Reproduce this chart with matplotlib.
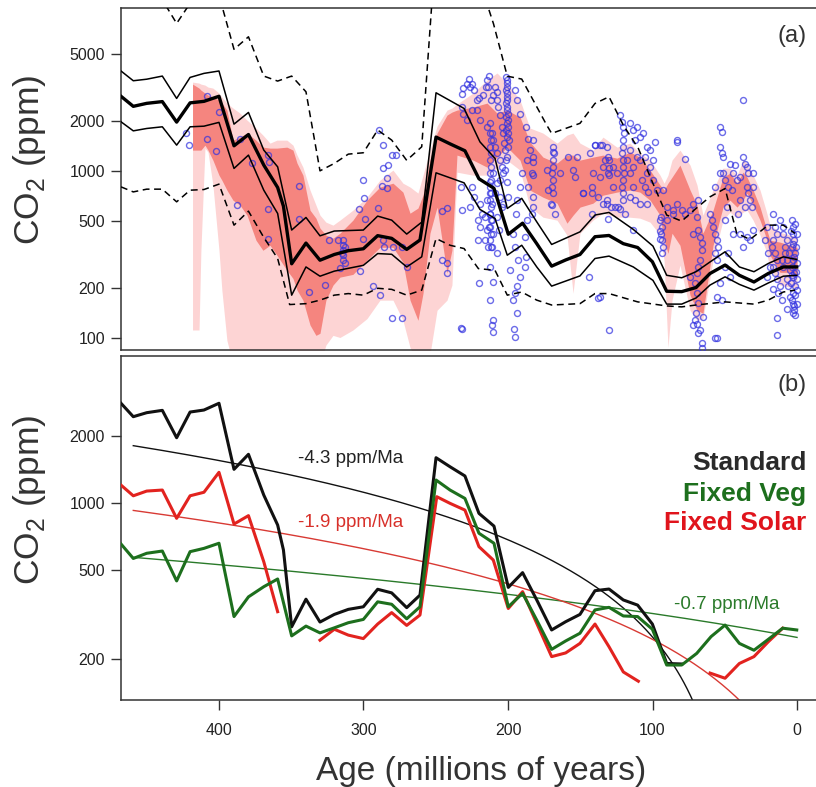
import numpy as np
import matplotlib
matplotlib.use("Agg")
import matplotlib.pyplot as plt
from matplotlib.ticker import NullLocator, FixedLocator, FixedFormatter

plt.rcParams['font.family'] = ['Liberation Sans', 'DejaVu Sans']
plt.rcParams['mathtext.fontset'] = 'custom'
plt.rcParams['mathtext.rm'] = 'Liberation Sans'

# ---------------- data: panel (a) ----------------
# Standard model (thick black), also used in panel (b)
std_age = [467.8, 459.3, 450, 439.2, 429.3, 420, 410.4, 400, 389.6, 379.6, 369, 359.4, 355.4, 349.7,
           339.8, 330.1, 320.2, 310.5, 300.1, 290.2, 280.5, 270.1, 260.9, 249.8, 240.1, 229.8, 220.1,
           209.7, 199.8, 189.9, 180.1, 169.8, 160.1, 150.2, 139.8, 130.1, 120.2, 110.3, 100.1, 90.2,
           79.8, 69.9, 60.2, 49.8, 39.9, 29.8, 19.9, 9.5, 0.2]
std_co2 = [2805, 2442, 2545, 2607, 1965, 2562, 2616, 2805, 1418, 1656, 1087, 798, 617, 279,
           371, 293, 317, 334, 343, 411, 396, 340, 387, 1599, 1456, 1324, 900,
           789, 419, 488, 368, 270, 294, 317, 405, 412, 368, 349, 287, 191,
           190, 201, 244, 274, 238, 217, 244, 267, 267]

# thin envelope of the Standard model
env_age = [467.8, 459.3, 450, 439.2, 429.3, 420, 410.4, 400, 389.6, 379.6, 369, 359.4, 349.7, 339.8,
           330.1, 320.2, 300.1, 290.2, 280.5, 270.1, 259.7, 249.8, 230.4, 219.4, 209, 200.5, 190.5,
           180.1, 169.8, 150.2, 139.8, 130.1, 113.3, 99.7, 90.2, 79.8, 69.9, 60.2, 49.8, 39.9, 29.8,
           19.9, 9.5, 0.2]
env_hi = [3975, 3475, 3550, 3706, 2723, 3638, 3846, 3975, 1911, 2245, 1336, 1061, 444, 528,
          410, 438, 444, 538, 509, 420, 495, 2944, 2372, 1496, 1192, 598, 687,
          497, 364, 433, 546, 566, 448, 356, 238, 230, 250, 286, 329, 267, 250,
          280, 307, 296]
env_lo = [1974, 1742, 1800, 1842, 1431, 1842, 1858, 1958, 1038, 1247, 769, 558, 181, 267,
          235, 252, 273, 321, 318, 267, 307, 977, 851, 590, 521, 314, 360,
          267, 205, 236, 300, 310, 267, 222, 160, 160, 174, 208, 233, 210, 194,
          214, 235, 238]

# dashed outer envelope
dhi_age = [467.8, 459.3, 450, 439.2, 429.3, 420, 410.4, 400, 389.6, 379.6, 369, 359.4, 349.7, 339.8,
           330.1, 320.2, 310.5, 300.1, 290.2, 280.5, 270.1, 259.7, 249.8, 240, 230, 220, 210, 200.5,
           190.5, 173.2, 169.8, 150.2, 139.8, 130.1, 120.2, 109.8, 99.7, 90.2, 79.8, 69.9, 60.2,
           49.8, 41.7, 32.5, 19.9, 9.5, 1.4]
dhi_co2 = [12000, 11500, 11000, 10600, 7656, 10100, 12000, 11300, 5357, 6368, 3706, 3459, 3706, 2985,
           1004, 1112, 1264, 1288, 1762, 1534, 1160, 1399, 23000, 25000, 22000, 14000, 7600, 3700,
           3556, 1884, 1682, 1932, 2541, 2786, 1884, 1367, 844, 546, 502, 598, 702,
           787, 424, 390, 475, 475, 424]
dlo_age = [467.8, 459.3, 450, 439.2, 429.3, 420, 410.4, 400, 389.6, 379.6, 369, 359.4, 351.1, 339.8,
           330.1, 320.2, 310.5, 300.1, 290.2, 280.5, 270.1, 259.7, 249.8, 240.1, 230.4, 220.5, 209,
           200.5, 190.5, 180.1, 169.8, 150.2, 139.8, 130.1, 110.3, 90.2, 79.8, 69.9, 49.8, 29.8,
           19.9, 9.5, 1.4]
dlo_co2 = [805, 751, 780, 780, 655, 769, 776, 836, 475, 576, 401, 300, 159, 161,
           169, 181, 185, 181, 199, 196, 181, 194, 395, 360, 344, 261, 255,
           181, 189, 169, 158, 161, 185, 185, 165, 156, 154, 158, 165, 160,
           169, 189, 194]

# proxy smoothing bands (light = wide, dark = narrow)
band_age = [418.3, 413.8, 412.5, 409.7, 407.6, 404.2, 400, 398, 394.5, 390.3, 385.5, 380.6, 374.4,
            369.6, 364.7, 359.9, 353, 348.8, 346, 341.9, 337, 332.9, 330.1, 326, 321.1, 316.3,
            307.3, 297.6, 288.6, 279.6, 272.7, 267.8, 262.3, 258.8, 254, 249.1, 242.2, 238.8,
            235.3, 224.2, 214.5, 207.6, 200.7, 191.7, 184.8, 175.8, 166.1, 159.2, 155, 150.2,
            141.2, 134.3, 124.6, 115.6, 108.7, 101.7, 94.8, 92, 89.3, 86.5, 81, 74, 69.2, 65.1,
            58.1, 51.2, 46.4, 41.5, 37.4, 34.6, 30.4, 25.6, 21.5, 18.7, 11.8, 4.8, 0]
light_hi = [3411, 3364, 3318, 3273, 3184, 3140, 2931, 2774, 2554, 2384, 2225, 2020, 1810,
            1643, 1471, 1533, 1533, 1431, 1247, 1056, 770, 626, 545, 495, 475, 509,
            584, 698, 883, 1014, 847, 803, 739, 946, 1336, 1860, 2319, 2384,
            2519, 2931, 3506, 3867, 3364, 2662, 1810, 1689, 1471, 1643, 1689, 1471,
            1336, 1598, 1392, 1471, 1282, 1164, 946, 847, 946, 1164, 1336, 1086, 825, 545,
            770, 1042, 1042, 946, 1164, 1117, 946, 770, 584, 475, 431, 414, 403]
dark_hi = [3318, 3140, 3055, 2931, 2852, 2774, 2662, 2554, 2319, 1533, 1598, 1689, 1533,
           1392, 1373, 1373, 1392, 1336, 1117, 946, 584, 523, 456, 414, 397, 425,
           509, 670, 803, 847, 749, 560, 601, 718, 1164, 1689, 2165, 2256,
           2319, 2417, 2554, 2225, 2319, 2106, 1491, 1213, 1117, 1247, 1247, 1164,
           1213, 1247, 1196, 1300, 1213, 1014, 825, 770, 847, 920, 1086, 770, 626, 425,
           584, 920, 973, 847, 986, 920, 770, 609, 462, 386, 376, 360, 350]
dark_lo = [1336, 1336, 1336, 1431, 1336, 1164, 946, 883, 770, 670, 626, 545, 386,
           336, 360, 314, 255, 228, 194, 169, 120, 104, 107, 169, 208, 232,
           241, 293, 350, 350, 285, 169, 128, 186, 425, 609, 245, 336,
           1247, 1164, 1056, 1213, 1392, 1164, 770, 698, 643, 488, 545, 609,
           643, 718, 749, 770, 749, 670, 545, 386, 322, 425, 360, 181, 147, 141,
           360, 609, 670, 609, 670, 739, 626, 509, 403, 314, 248, 248, 238]
light_lo = [112, 112, 336, 1373, 1300, 825, 336, 194, 97, 70, 70, 70, 70,
            70, 70, 70, 70, 70, 70, 70, 70, 70, 70, 91, 104, 101,
            112, 131, 169, 169, 128, 88, 70, 70, 80, 147, 169, 208,
            986, 946, 946, 1042, 1164, 1014, 609, 530, 509, 414, 186, 425,
            509, 560, 530, 530, 523, 495, 414, 293, 88, 169, 274, 147, 128, 131,
            293, 509, 568, 523, 568, 584, 509, 414, 336, 263, 208, 202, 200]

# proxy CO2 estimates (age Ma, ppm)
proxy_paleozoic = [
    (423, 1690), (420.8, 1431), (408.5, 2820), (408.5, 1550), (400, 2270), (402, 1320), (387.8, 626),
    (385.5, 1550), (377.4, 1120), (365.9, 1247), (365.2, 1130), (365.9, 595), (365.9, 390), (344.6, 820),
    (344.6, 520), (338, 190), (326.6, 208), (323.6, 386), (317.4, 388), (314, 386), (314, 360), (314, 336),
    (314, 314), (314, 293), (313, 350), (315, 325), (316.3, 262), (312.7, 280), (302.4, 252), (300.1, 883),
    (299.4, 690), (302.9, 590), (289.8, 600), (299, 520), (300.1, 395), (293.2, 205), (288.6, 181),
    (289, 1760), (286.7, 1431), (286.3, 1040), (282.8, 1086), (284, 905), (280.5, 1247), (277.5, 1247),
    (287.4, 815), (283.5, 790), (286.7, 386), (285.5, 350), (279.4, 350), (273.6, 350), (280.5, 132),
    (273.6, 132), (270.1, 268)]
proxy_early_mesozoic = [
    (245.9, 575), (242, 600), (245.9, 295), (242, 283), (242, 245), (232.7, 115),
    (232, 2880), (230.9, 3125), (228.6, 3340), (226.7, 3560), (226.3, 3170), (225.1, 3340), (223.5, 3055),
    (221.6, 2662), (219.8, 2740), (217, 2852), (215.2, 3170), (214.7, 3506), (213.6, 3170), (212.9, 3710),
    (212, 2662), (210.1, 2852), (209, 3170), (207.8, 2985), (207.8, 2662), (206.6, 2430), (205.5, 2165),
    (204.3, 1840), (203.2, 1680), (202.7, 1466), (202, 1336), (201.3, 1164), (200.9, 3506), (200.9, 3200),
    (200.4, 2920), (200.9, 2662), (200.4, 2430), (199.7, 2210), (199.7, 2020), (199.7, 1840), (199.7, 1680),
    (199, 1533), (199.7, 1400), (200.9, 1220), (202, 1014), (200.9, 860), (199.7, 700), (203.2, 640),
    (232, 2430), (230.9, 2210), (228.6, 2020), (225.1, 2319), (221.6, 2319), (219.3, 2020), (214.7, 1840),
    (212.4, 1930), (211.3, 1680), (210.1, 1533), (209, 1400), (207.8, 1275), (205.5, 1164), (204.3, 1060),
    (203.2, 970), (205.5, 883), (207.8, 845), (209, 735), (212.4, 735), (211.3, 640), (212.4, 557),
    (211.3, 509), (212.9, 462), (210.6, 420), (211.3, 350), (207.8, 322), (213.6, 350), (214.3, 443),
    (215.9, 535), (218.2, 557), (220.5, 509), (219.3, 462), (215.9, 386), (220.5, 386), (212.4, 268),
    (210.6, 218), (219.8, 213), (212.4, 169), (210.6, 128), (210.1, 109), (211.3, 120), (232, 114),
    (232.7, 805), (226.3, 612), (232, 584), (225.1, 805), (223.5, 700), (219.3, 640), (214.7, 670),
    (210.1, 970), (212.4, 860), (205.5, 700), (204.3, 612), (207.8, 535), (206, 443),
    (195.1, 3055), (194, 2662), (191.7, 2210), (187.5, 1840), (185.9, 1567), (182.4, 1533), (184.7, 1336),
    (187, 1164), (183.6, 970), (185.9, 805), (182.4, 700), (182.4, 612), (183.6, 557), (187, 509),
    (188.2, 405), (187.5, 305), (188.2, 268), (196.3, 420), (195.1, 350), (192.8, 293), (191.6, 233),
    (194, 204), (195.1, 186), (196.3, 169), (194, 141), (195.8, 114), (195.1, 102), (198.6, 255),
    (194.4, 557), (193.5, 670), (191.7, 805), (190.5, 970)]
# two dense vertical clusters near 212 Ma and 201 Ma
proxy_column_212 = [
    (212.6, 1689), (211.5, 1533), (212.6, 1400), (211.5, 1275), (212.6, 1164), (211.5, 1060),
    (212.6, 970), (211.5, 883), (212.6, 805), (211.5, 735), (212.6, 670), (211.5, 612),
    (212.6, 557), (211.5, 509), (212.6, 462), (211.5, 420), (212.6, 386), (211.5, 350)]
proxy_column_201 = [
    (201.5, 3650), (200.6, 3364), (201.5, 3055), (200.6, 2774), (201.5, 2554), (200.6, 2319),
    (201.5, 2106), (200.6, 1930), (201.5, 1760), (200.6, 1598)]
proxy_late_mesozoic = [
    (168.6, 1400), (168.1, 1275), (168.6, 1164), (169, 1060), (169.7, 970), (168.6, 883), (169.7, 805),
    (169, 735), (182.4, 1220), (173.2, 1014), (164, 970), (158.2, 1220), (154.7, 1014), (152.4, 1220),
    (147.8, 735), (142, 735), (143.2, 1275), (140.9, 970), (136.3, 925), (134, 1060), (130.5, 970),
    (127, 805), (169.7, 626), (167.4, 557), (143.7, 233), (136.3, 177), (129.8, 112),
    (139.7, 1431), (136.3, 1431), (131.7, 1400), (130.5, 1220), (127, 1060), (122.4, 2165), (121.3, 1975),
    (120.1, 1840), (119.7, 1680), (120.6, 1533), (120.1, 1400), (121.3, 1275), (120.6, 1164), (120.1, 1060),
    (119.7, 970), (120.6, 883), (121.3, 805), (120.6, 735), (120.1, 670), (122.4, 595), (119, 557),
    (115.5, 1930), (113.2, 1760), (110.9, 1840), (112, 1533), (108.6, 1610), (106.3, 1680), (104, 1400),
    (101.7, 1336), (98.2, 1500), (99.4, 1164), (101.7, 1060), (104, 970), (107.4, 883), (105.1, 805),
    (102.8, 750), (110.9, 1220), (113.2, 1060), (115.5, 970), (113.2, 805), (115.5, 700), (112, 670),
    (108.6, 640), (104, 640), (124.7, 970), (131.7, 640), (134, 640), (130.5, 520), (137.4, 700),
    (115.5, 1336), (117.8, 1164), (108.6, 1164), (105.1, 1220), (99.4, 883), (97.1, 770),
    (182.4, 1130), (182.4, 946), (168.6, 1300), (172, 770), (170, 640), (153.6, 925), (147.9, 735),
    (142, 805), (142, 557), (139.8, 1431), (135, 1431), (132.9, 1164), (129.9, 1164), (129.9, 1050),
    (129.9, 946), (131.7, 670), (129, 612), (126.3, 612), (123.7, 612), (113.2, 443), (137.4, 174)]
proxy_cenozoic = [
    (94.3, 535), (93.6, 462), (94.3, 420), (93.6, 386), (92.4, 350), (90.1, 612), (85.5, 584), (83.2, 640),
    (79.8, 584), (77.5, 557), (74, 584), (71.7, 640), (68.2, 670), (69.4, 535), (68.2, 443), (67.1, 405),
    (65.9, 370), (65.9, 336), (67.1, 293), (68.2, 268), (69.4, 245), (70.5, 213), (69.4, 186), (68.2, 162),
    (69.8, 141), (70.5, 128), (68.9, 122), (67.1, 112), (65.9, 93), (65.9, 87), (71.7, 120), (68.2, 107),
    (64.8, 134), (74, 233), (71.7, 420), (90.1, 509), (93.6, 322), (94.8, 509), (94.8, 440), (94.8, 390),
    (92.5, 770), (83.2, 1533), (85.6, 557), (82.8, 1500), (77.5, 1175),
    (60.2, 557), (59, 509), (57.9, 462), (56.7, 420), (55.5, 386), (54.4, 350), (56.7, 322), (55.5, 293),
    (53.2, 1840), (52.1, 1720), (53.2, 1400), (52.1, 1275), (50.9, 1220), (56.7, 805), (53.2, 970),
    (50.9, 970), (49.8, 883), (47.5, 805), (45.2, 770), (44, 970), (41.7, 883), (39.4, 925), (37.1, 2662),
    (37.1, 1220), (35.9, 1110), (34.8, 1060), (33.6, 970), (34.8, 805), (33.6, 735), (32.5, 670),
    (31.3, 612), (30.2, 805), (35.9, 612), (40.5, 557), (39.4, 420), (34.8, 405), (32.5, 386), (44, 420),
    (47.5, 322), (49.8, 268), (46.3, 233), (53.2, 213), (55.5, 177), (52.1, 169), (55.5, 100), (56.7, 100),
    (42.8, 1086), (46.3, 1110), (30.2, 970), (39.4, 670), (37.1, 350), (30.2, 443), (48.6, 612), (49.8, 509),
    (3.6, 509), (2.5, 462), (3.0, 420), (2.0, 386), (3.4, 350), (1.3, 322), (2.5, 293), (3.2, 268),
    (1.8, 245), (3.0, 233), (1.3, 204), (2.5, 186), (3.6, 169), (1.8, 155), (2.5, 141), (1.3, 137),
    (4.3, 440), (0.2, 420), (0.6, 350), (5.5, 322), (0.2, 280), (4.8, 255), (0.2, 225), (4.3, 213),
    (0.2, 194), (4.8, 177), (0.2, 160), (16.4, 557), (15.2, 462), (14.1, 420), (16.4, 386), (17.5, 350),
    (15.2, 322), (14.1, 293), (16.4, 268), (15.2, 245), (14.1, 225), (16.4, 198), (13, 186), (11.7, 204),
    (9.4, 420), (7.1, 386), (8.2, 322), (9.4, 268), (7.1, 225), (10.6, 169), (14.1, 133), (7.1, 150),
    (14.1, 104), (21, 462), (22.2, 386), (19.9, 322), (18.7, 268), (21, 233), (11.7, 509), (9.4, 462),
    (8.2, 350), (10.6, 293), (5.9, 204), (7.1, 293), (1.3, 485), (3.0, 368), (1.8, 305), (0.6, 250),
    (3.4, 240), (1.3, 181), (3.0, 160), (1.8, 147)]

# ---------------- data: panel (b) ----------------
std_b_oldest_hidden_age = 79.8   # younger Standard values lie under the Fixed Veg line
veg_age = [467.8, 459.3, 450, 439.2, 429.3, 420, 410.4, 400, 389.6, 379.6, 369, 359.4, 349.7, 339.8,
           330.1, 320.2, 310.5, 300.1, 290.2, 280.5, 270.1, 260.9, 249.8, 240.1, 229.8, 220.1, 209.7,
           199.8, 189.9, 180.1, 169.8, 160.1, 150.2, 139.8, 130.1, 120.2, 110.3, 100.1, 90.2, 79.8,
           69.4, 59.5, 49.8, 39.9, 29.8, 19.9, 9.9, 0.2]
veg_co2 = [656, 565, 596, 610, 448, 606, 627, 661, 310, 380, 422, 457, 254, 281,
           262, 276, 291, 301, 361, 352, 303, 343, 1270, 1145, 1050, 733, 661,
           343, 394, 299, 221, 241, 261, 332, 341, 312, 310, 272, 188, 188,
           212, 252, 284, 235, 219, 245, 275, 270]
solar_age = [467.8, 459.3, 450, 439.2, 429.3, 420, 410.4, 400, 389.6, 379.6, 369, 359.4, np.nan,
             330.1, 320.2, 310.5, 300.1, 290.2, 280.5, 270.1, 260.9, 249.3, 240.1, 229.8, 220.1, 210.2,
             199.8, 189.9, 180.1, 169.8, 160.1, 150.2, 139.8, 130.1, 120.2, 109.8, np.nan,
             60.2, 49.8, 39.9, 29.8, 19.9, 9.9]
solar_co2 = [1205, 1079, 1133, 1145, 855, 1079, 1119, 1375, 806, 879, 546, 326, np.nan,
             243, 272, 256, 247, 287, 323, 283, 315, 1069, 998, 931, 638, 556,
             337, 401, 289, 205, 213, 235, 287, 227, 175, 159, np.nan,
             173, 164, 191, 205, 239, 275]

# linear trends (ppm = intercept + slope * age), slopes from the labels
trend_names = ['Standard', 'Fixed Veg', 'Fixed Solar']
trend_slope = [4.34, 0.70, 1.90]
trend_intercept = [-183, 250, 55]
trend_start = 459.3
trend_labels = ['-4.3 ppm/Ma', '-0.7 ppm/Ma', '-1.9 ppm/Ma']

# ---------------- figure ----------------
W, H = 816, 787
fig = plt.figure(figsize=(W / 100, H / 100), dpi=100)
fig.patch.set_facecolor('white')

left_px, right_px = 121, 818.7
ax1 = fig.add_axes([left_px / W, (H - 350) / H, (right_px - left_px) / W, (350 - 8) / H])
ax2 = fig.add_axes([left_px / W, (H - 700) / H, (right_px - left_px) / W, (700 - 356) / H])

spine_c = '#333333'
for ax in (ax1, ax2):
    ax.set_yscale('log')
    ax.set_xlim(467.8, -15)
    ax.yaxis.set_minor_locator(NullLocator())
    for s in ax.spines.values():
        s.set_color(spine_c)
        s.set_linewidth(1.1)
    ax.tick_params(axis='y', direction='out', length=7.5, width=1, colors=spine_c,
                   labelsize=11.5, labelcolor='#222222', pad=4)

# panel a
ax1.set_ylim(85, 9470)
ax1.yaxis.set_major_locator(FixedLocator([100, 200, 500, 1000, 2000, 5000]))
ax1.yaxis.set_major_formatter(FixedFormatter(['100', '200', '500', '1000', '2000', '5000']))
ax1.set_xticks([])

ax1.fill_between(band_age, light_lo, light_hi, color='#fdd4d4', lw=0, zorder=1)
ax1.fill_between(band_age, dark_lo, dark_hi, color='#f5857f', lw=0, zorder=2)

for grp in (proxy_paleozoic, proxy_early_mesozoic, proxy_column_212, proxy_column_201,
            proxy_late_mesozoic, proxy_cenozoic):
    a = [p[0] for p in grp]
    c = [p[1] for p in grp]
    ax1.plot(a, c, 'o', ms=4.3, mfc='none', mec=(0.2, 0.2, 0.88, 0.72), mew=1.0, zorder=3)

ax1.plot(dhi_age, dhi_co2, color='black', lw=1.1, ls=(0, (4.5, 3)), zorder=4)
ax1.plot(dlo_age, dlo_co2, color='black', lw=1.1, ls=(0, (4.5, 3)), zorder=4)
ax1.plot(env_age, env_hi, color='black', lw=1.1, zorder=4)
ax1.plot(env_age, env_lo, color='black', lw=1.1, zorder=4)
ax1.plot(std_age, std_co2, color='black', lw=2.4, zorder=5)
ax1.text(0.982, 0.918, '(a)', transform=ax1.transAxes, ha='right', va='center',
         fontsize=17, color='#333333')

# panel b
ax2.set_ylim(131, 4570)
ax2.yaxis.set_major_locator(FixedLocator([200, 500, 1000, 2000]))
ax2.yaxis.set_major_formatter(FixedFormatter(['200', '500', '1000', '2000']))
ax2.set_xticks([400, 300, 200, 100, 0])
ax2.set_xticklabels(['400', '300', '200', '100', '0'])
ax2.tick_params(axis='x', direction='out', length=7.5, width=1, colors=spine_c,
                labelsize=11.5, labelcolor='#222222', pad=9)

c_std, c_veg, c_sol = '#111111', '#1d6f1d', '#e2231f'
ages_t = np.linspace(trend_start, 0, 400)
trend_colors = ['#111111', '#2a7a2a', '#d83a34']
for slope, icpt, col in zip(trend_slope, trend_intercept, trend_colors):
    vals = icpt + slope * ages_t
    vals = np.where(vals > 0, vals, np.nan)
    ax2.plot(ages_t, vals, color=col, lw=1.0, zorder=2)

std_b_age = [a for a in std_age if a >= std_b_oldest_hidden_age]
std_b_co2 = [c for a, c in zip(std_age, std_co2) if a >= std_b_oldest_hidden_age]
ax2.plot(std_b_age, std_b_co2, color=c_std, lw=2.2, zorder=3)
ax2.plot(solar_age, solar_co2, color=c_sol, lw=2.2, zorder=4)
ax2.plot(veg_age, veg_co2, color=c_veg, lw=2.2, zorder=5)

ax2.text(345.3, 1578, trend_labels[0], color='#222222', fontsize=13.5, ha='left', va='center')
ax2.text(345.3, 823, trend_labels[2], color='#d8302a', fontsize=13.5, ha='left', va='center')
ax2.text(85.1, 353, trend_labels[1], color='#2a7a2a', fontsize=13.5, ha='left', va='center')

for name, col, yy in zip(trend_names, ['#2a2a2a', c_veg, '#e0141c'], [0.689, 0.599, 0.5145]):
    ax2.text(0.982, yy, name, transform=ax2.transAxes, ha='right', va='center',
             fontsize=19, fontweight='bold', color=col)
ax2.text(0.982, 0.916, '(b)', transform=ax2.transAxes, ha='right', va='center',
         fontsize=17, color='#333333')

# axis titles
fig.text(29 / W, 1 - 160 / H, 'CO$_\\mathregular{2}$ (ppm)', rotation=90, ha='center', va='center',
         fontsize=25.5, color='#333333')
fig.text(29 / W, 1 - 500 / H, 'CO$_\\mathregular{2}$ (ppm)', rotation=90, ha='center', va='center',
         fontsize=25.5, color='#333333')
fig.text(481 / W, 1 - 780 / H, 'Age (millions of years)', ha='center', va='baseline',
         fontsize=24, color='#333333')

fig.savefig('out.png', dpi=100, facecolor='white')
